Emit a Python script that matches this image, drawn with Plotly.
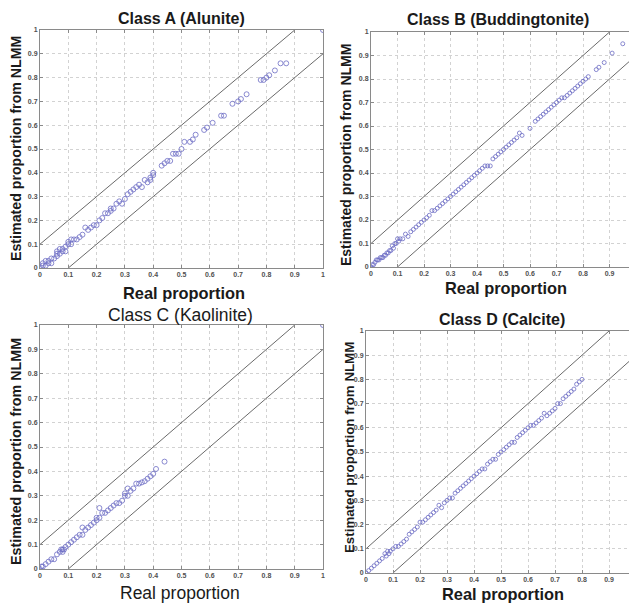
import plotly.graph_objects as go

# ---------------- data ----------------
tick_vals = [0, 0.1, 0.2, 0.3, 0.4, 0.5, 0.6, 0.7, 0.8, 0.9, 1]
tick_text = ["0", "0.1", "0.2", "0.3", "0.4", "0.5", "0.6", "0.7", "0.8", "0.9", "1"]

upper_x = [0, 0.9]
upper_y = [0.1, 1.0]
lower_x = [0.1, 1.0]
lower_y = [0, 0.9]

a_real = [0.00, 0.01, 0.01, 0.02, 0.02, 0.03, 0.03, 0.04, 0.04, 0.05, 0.06, 0.06, 0.06, 0.07, 0.07, 0.08,
          0.08, 0.09, 0.09, 0.10, 0.10, 0.11, 0.11, 0.12, 0.13, 0.14, 0.15, 0.16, 0.17, 0.18, 0.19, 0.20,
          0.21, 0.22, 0.23, 0.24, 0.25, 0.25, 0.26, 0.27, 0.28, 0.29, 0.30, 0.31, 0.32, 0.33, 0.34, 0.35,
          0.36, 0.37, 0.38, 0.39, 0.39, 0.40, 0.40, 0.43, 0.44, 0.45, 0.46, 0.47, 0.48, 0.49, 0.50, 0.51,
          0.53, 0.54, 0.55, 0.58, 0.59, 0.61, 0.64, 0.65, 0.68, 0.70, 0.71, 0.73, 0.78, 0.79, 0.80, 0.81,
          0.83, 0.85, 0.87, 1.00]
a_est = [0.00, 0.01, 0.02, 0.03, 0.01, 0.02, 0.03, 0.02, 0.04, 0.04, 0.05, 0.07, 0.06, 0.06, 0.08, 0.07,
         0.08, 0.07, 0.09, 0.10, 0.11, 0.10, 0.12, 0.12, 0.12, 0.13, 0.14, 0.17, 0.16, 0.17, 0.18, 0.18,
         0.20, 0.21, 0.23, 0.23, 0.25, 0.24, 0.25, 0.27, 0.28, 0.27, 0.29, 0.31, 0.32, 0.33, 0.34, 0.35,
         0.34, 0.37, 0.36, 0.38, 0.37, 0.39, 0.40, 0.43, 0.44, 0.45, 0.45, 0.48, 0.48, 0.48, 0.50, 0.53,
         0.53, 0.54, 0.56, 0.58, 0.59, 0.61, 0.64, 0.64, 0.69, 0.70, 0.71, 0.73, 0.79, 0.79, 0.80, 0.81,
         0.83, 0.86, 0.86, 1.00]

b_real = [0.000, 0.005, 0.010, 0.015, 0.020, 0.025, 0.030, 0.035, 0.040, 0.045, 0.050, 0.055, 0.060, 0.065,
          0.070, 0.075, 0.080, 0.085, 0.090, 0.095, 0.100, 0.105, 0.110, 0.120, 0.130, 0.140, 0.150, 0.160,
          0.170, 0.180, 0.190, 0.200, 0.210, 0.220, 0.230, 0.240, 0.250, 0.260, 0.270, 0.280, 0.290, 0.300,
          0.310, 0.320, 0.330, 0.340, 0.350, 0.360, 0.370, 0.380, 0.390, 0.400, 0.410, 0.420, 0.430, 0.440,
          0.450, 0.460, 0.470, 0.480, 0.490, 0.500, 0.510, 0.520, 0.530, 0.540, 0.550, 0.560, 0.570, 0.600,
          0.620, 0.630, 0.640, 0.650, 0.660, 0.670, 0.680, 0.690, 0.700, 0.710, 0.720, 0.730, 0.740, 0.750,
          0.760, 0.770, 0.780, 0.790, 0.800, 0.810, 0.820, 0.850, 0.860, 0.880, 0.910, 0.950]
b_est = [0.000, 0.010, 0.010, 0.020, 0.030, 0.030, 0.030, 0.040, 0.040, 0.040, 0.050, 0.050, 0.060, 0.060,
         0.070, 0.070, 0.090, 0.080, 0.100, 0.100, 0.120, 0.110, 0.120, 0.120, 0.140, 0.130, 0.150, 0.160,
         0.170, 0.180, 0.190, 0.200, 0.210, 0.220, 0.240, 0.240, 0.250, 0.260, 0.270, 0.280, 0.290, 0.300,
         0.310, 0.320, 0.330, 0.340, 0.350, 0.360, 0.370, 0.380, 0.390, 0.400, 0.410, 0.420, 0.430, 0.430,
         0.430, 0.460, 0.470, 0.480, 0.490, 0.500, 0.510, 0.520, 0.530, 0.540, 0.550, 0.570, 0.560, 0.590,
         0.620, 0.630, 0.640, 0.650, 0.660, 0.670, 0.680, 0.690, 0.700, 0.710, 0.720, 0.720, 0.730, 0.740,
         0.750, 0.760, 0.770, 0.780, 0.790, 0.800, 0.810, 0.840, 0.850, 0.870, 0.910, 0.950]

c_real = [0.000, 0.005, 0.010, 0.020, 0.030, 0.040, 0.050, 0.060, 0.070, 0.075, 0.080, 0.080, 0.085, 0.090,
          0.100, 0.110, 0.120, 0.130, 0.140, 0.150, 0.150, 0.160, 0.170, 0.180, 0.190, 0.200, 0.200, 0.210,
          0.210, 0.220, 0.230, 0.240, 0.250, 0.260, 0.270, 0.280, 0.290, 0.300, 0.300, 0.310, 0.310, 0.320,
          0.330, 0.340, 0.350, 0.360, 0.370, 0.380, 0.390, 0.400, 0.410, 0.440, 1.000]
c_est = [0.000, 0.010, 0.010, 0.020, 0.030, 0.040, 0.040, 0.060, 0.070, 0.080, 0.070, 0.080, 0.080, 0.090,
         0.100, 0.110, 0.120, 0.130, 0.140, 0.140, 0.170, 0.160, 0.170, 0.180, 0.190, 0.200, 0.210, 0.210,
         0.250, 0.230, 0.230, 0.240, 0.250, 0.260, 0.270, 0.270, 0.280, 0.300, 0.310, 0.300, 0.330, 0.320,
         0.330, 0.350, 0.350, 0.355, 0.360, 0.370, 0.380, 0.390, 0.410, 0.440, 1.000]

d_real = [0.000, 0.010, 0.020, 0.030, 0.040, 0.050, 0.060, 0.070, 0.075, 0.080, 0.085, 0.090, 0.100, 0.110,
          0.120, 0.130, 0.140, 0.150, 0.160, 0.170, 0.180, 0.190, 0.200, 0.210, 0.220, 0.230, 0.240, 0.250,
          0.260, 0.270, 0.280, 0.290, 0.300, 0.310, 0.320, 0.330, 0.340, 0.350, 0.360, 0.370, 0.380, 0.390,
          0.400, 0.410, 0.420, 0.430, 0.440, 0.450, 0.460, 0.470, 0.480, 0.490, 0.500, 0.510, 0.520, 0.530,
          0.540, 0.550, 0.560, 0.570, 0.580, 0.590, 0.600, 0.610, 0.620, 0.630, 0.640, 0.650, 0.660, 0.670,
          0.680, 0.690, 0.700, 0.710, 0.720, 0.730, 0.740, 0.750, 0.760, 0.770, 0.780, 0.790, 0.800]
d_est = [0.000, 0.010, 0.020, 0.030, 0.040, 0.050, 0.060, 0.080, 0.070, 0.090, 0.080, 0.090, 0.100, 0.110,
         0.110, 0.120, 0.130, 0.140, 0.160, 0.170, 0.180, 0.190, 0.210, 0.210, 0.220, 0.230, 0.240, 0.250,
         0.260, 0.280, 0.270, 0.290, 0.300, 0.310, 0.310, 0.330, 0.340, 0.350, 0.360, 0.370, 0.380, 0.390,
         0.400, 0.410, 0.420, 0.430, 0.430, 0.450, 0.460, 0.470, 0.470, 0.490, 0.500, 0.510, 0.520, 0.530,
         0.540, 0.540, 0.560, 0.570, 0.580, 0.590, 0.600, 0.610, 0.610, 0.620, 0.630, 0.640, 0.660, 0.650,
         0.660, 0.670, 0.680, 0.700, 0.700, 0.720, 0.730, 0.740, 0.750, 0.760, 0.780, 0.790, 0.800]

panels = [
    dict(real=a_real, est=a_est, title="Class A (Alunite)"),
    dict(real=b_real, est=b_est, title="Class B (Buddingtonite)"),
    dict(real=c_real, est=c_est, title="Class C (Kaolinite)"),
    dict(real=d_real, est=d_est, title="Class D (Calcite)"),
]

# ---------------- layout geometry (page pixels) ----------------
OFF = 8                       # page body margin
W, H = 637 - OFF, 604 - OFF   # figure size so that it fills the window


def px(x):
    return (x - OFF) / W


def py(y):
    return 1 - (y - OFF) / H


# (left, right, top, bottom) plot areas in page pixels
boxes = [(40, 323, 30, 268), (371, 636, 32, 267), (40, 323, 325, 569), (366, 636, 331, 573)]
title_pos = [(182, 18, 16, "bold"), (498, 19, 16, "bold"), (180, 315, 17.5, "normal"), (502, 319, 16, "bold")]
xtitle_pos = [(184, 293, 16.4, "bold"), (506, 288, 16.4, "bold"), (180, 593, 17.5, "normal"), (503, 594, 16.4, "bold")]
ytitle_pos = [(16, 149, 14.2), (346, 155, 14.0), (16, 452, 14.3), (349, 448, 13.3)]

FONT = "Liberation Sans, Arial, sans-serif"
MARK = "#6c6cc4"
LINE = "#6a6a6a"

fig = go.Figure()
layout = dict(width=W, height=H, margin=dict(l=0, r=0, t=0, b=0, autoexpand=False),
              paper_bgcolor="white", plot_bgcolor="white", showlegend=False)
annotations = []

for i, p in enumerate(panels):
    k = "" if i == 0 else str(i + 1)
    xa, ya = "x" + k, "y" + k
    l, r, t, b = boxes[i]
    msize = 5 if i in (0, 2) else 4
    fig.add_trace(go.Scatter(x=upper_x, y=upper_y, mode="lines", xaxis=xa, yaxis=ya,
                             line=dict(color=LINE, width=1), hoverinfo="skip"))
    fig.add_trace(go.Scatter(x=lower_x, y=lower_y, mode="lines", xaxis=xa, yaxis=ya,
                             line=dict(color=LINE, width=1), hoverinfo="skip"))
    fig.add_trace(go.Scatter(x=p["real"], y=p["est"], mode="markers", xaxis=xa, yaxis=ya,
                             marker=dict(symbol="circle-open", size=msize, color=MARK,
                                         line=dict(width=0.8, color=MARK))))
    axcommon = dict(range=[0, 1], tickmode="array", tickvals=tick_vals, ticktext=tick_text,
                    showgrid=True, gridcolor="#d2d2d2", griddash="dot", gridwidth=1,
                    showline=True, linecolor="#8a8a8a", linewidth=1, mirror="ticks",
                    ticks="inside", ticklen=3, tickcolor="#8a8a8a", zeroline=False,
                    tickfont=dict(family=FONT, size=7, color="#505050", weight="bold"),
                    fixedrange=True, automargin=False)
    layout["xaxis" + k] = dict(axcommon, domain=[px(l), min(px(r), 1)], anchor=ya)
    layout["yaxis" + k] = dict(axcommon, domain=[py(b), py(t)], anchor=xa)

    tx, ty, ts, tw = title_pos[i]
    annotations.append(dict(text=p["title"], x=px(tx), y=py(ty), xref="paper", yref="paper",
                            showarrow=False, xanchor="center", yanchor="middle",
                            font=dict(family=FONT, size=ts, color="#1a1a1a", weight=tw)))
    xx, xy, xs, xw = xtitle_pos[i]
    annotations.append(dict(text="Real proportion", x=px(xx), y=py(xy), xref="paper", yref="paper",
                            showarrow=False, xanchor="center", yanchor="middle",
                            font=dict(family=FONT, size=xs, color="#1a1a1a", weight=xw)))
    yx, yy, ys = ytitle_pos[i]
    annotations.append(dict(text="Estimated proportion from NLMM", x=px(yx), y=py(yy),
                            xref="paper", yref="paper", showarrow=False, textangle=-90,
                            xanchor="center", yanchor="middle",
                            font=dict(family=FONT, size=ys, color="#1a1a1a", weight="bold")))

layout["annotations"] = annotations
fig.update_layout(**layout)
fig.write_html("out.html")
